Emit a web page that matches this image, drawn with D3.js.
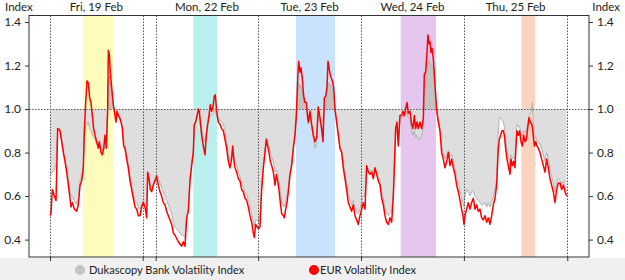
<!DOCTYPE html>
<html><head><meta charset="utf-8">
<script src="https://cdn.jsdelivr.net/npm/d3@7"></script>
<style>body{margin:0;background:#fff} svg{display:block} text{font-family:Lato,"Noto Sans",sans-serif;fill:#222}</style>
</head><body><svg id="c" width="625" height="280"></svg>
<script>
// hours since Fri 19 Feb 00:00 (weekend removed)
const hours=[0.00,0.23,0.54,1.01,1.40,1.79,2.33,2.72,3.11,3.50,3.89,4.28,4.66,4.90,5.21,5.68,6.22,6.61,7.00,7.39,7.77,8.01,8.32,8.63,8.94,9.25,9.56,9.87,10.18,10.50,10.88,11.27,11.51,11.90,12.21,12.52,12.83,13.14,13.45,13.61,13.84,14.07,14.38,14.77,15.16,15.39,15.63,15.94,16.25,16.56,16.87,17.18,17.49,17.88,18.27,18.66,19.05,19.43,19.83,20.21,20.60,20.99,21.38,21.77,22.16,22.55,22.78,23.09,23.40,23.71,24.10,24.49,24.88,25.27,25.66,26.04,26.43,26.82,27.21,27.60,27.99,28.38,28.77,29.15,29.93,30.32,30.71,31.10,31.49,31.88,32.26,32.65,33.04,33.43,33.66,33.97,34.29,34.60,34.83,35.06,35.37,35.76,36.15,36.46,36.77,37.08,37.40,37.71,38.02,38.33,38.56,38.87,39.26,39.65,40.04,40.43,40.82,41.20,41.59,41.98,42.37,42.60,42.92,43.15,43.54,43.93,44.32,44.70,45.09,45.48,45.87,46.26,46.65,47.04,47.43,47.66,47.97,48.28,48.59,48.98,49.37,49.76,50.15,50.46,50.77,51.08,51.39,51.70,52.09,52.48,52.79,53.10,53.41,53.72,54.03,54.42,54.65,54.97,55.28,55.59,55.98,56.37,56.75,57.14,57.45,57.76,58.00,58.31,58.54,58.85,59.16,59.48,59.79,60.10,60.25,60.64,61.03,61.42,61.81,62.20,62.58,62.97,63.36,63.67,63.98,64.30,64.61,64.84,65.15,65.46,65.85,66.16,66.47,66.86,67.25,67.64,68.03,68.42,68.80,69.19,69.58,69.97,70.36,70.75,71.14,71.53,71.91,72.30,72.69,73.08,73.47,73.86,74.25,74.64,75.02,75.41,75.80,76.19,76.58,76.97,77.36,77.75,78.13,78.52,78.91,79.30,79.69,80.08,80.31,80.62,80.93,81.24,81.63,82.02,82.33,82.64,82.95,83.27,83.58,83.97,84.35,84.66,84.98,85.29,85.60,85.91,86.30,86.69,87.08,87.31,87.62,87.93,88.16,88.40,88.63,88.86,89.10,89.41,89.80,90.18,90.57,90.96,91.35,91.74,92.13,92.52,92.91,93.30,93.68,94.07,94.46,94.85,95.24,95.63,96.02,96.33,96.56,96.79,97.18,97.57,97.96,98.35,98.74,99.13,99.52,99.90,100.29,100.68,101.07,101.46,101.85,102.24,102.62,103.01,103.40,103.79,104.18,104.57,104.80,105.11,105.42,105.73,105.97,106.28,106.59,106.90,107.29,107.52,107.83,108.14,108.45,108.69,108.92,109.23,109.54,109.86,110.17,110.48,110.79,111.10,111.41,111.72,112.03,112.34,112.50,112.66,112.97,113.28,113.59,113.90,114.29,114.68,115.07,115.46,115.84,116.23,116.62,117.01,117.40,117.79,118.18,118.57,118.96,119.34,119.73,120.12,120.51];
const eurVol=[.51,.52,.63,.60,.58,.91,.90,.85,.80,.76,.71,.65,.59,.55,.57,.54,.53,.56,.65,.67,.73,.90,1.03,1.13,1.12,1.05,1.03,.97,.91,.88,.85,.82,.85,.80,.79,.82,.88,.82,1.00,1.27,1.25,1.17,1.10,1.02,.97,.94,.99,.97,.96,.94,.91,.83,.82,.77,.73,.67,.63,.59,.55,.54,.51,.51,.55,.57,.55,.50,.71,.68,.63,.62,.65,.67,.69,.65,.62,.60,.57,.56,.53,.51,.49,.47,.43,.42,.39,.38,.37,.39,.37,.50,.53,.67,.74,.80,.93,.94,.97,1.00,.99,.94,.88,.83,.79,.88,.93,.97,1.02,.99,1.01,1.06,1.065,.99,.94,.93,.91,.90,.86,.82,.76,.73,.77,.83,.76,.73,.71,.68,.67,.63,.62,.59,.58,.55,.51,.48,.43,.41,.47,.46,.45,.46,.63,.73,.80,.86,.83,.80,.76,.74,.71,.65,.70,.67,.63,.57,.52,.51,.50,.54,.57,.62,.70,.74,.82,.88,.97,1.13,1.22,1.17,1.19,1.14,1.06,1.03,1.03,.96,.94,.99,.93,.88,.85,.87,1.01,.96,.91,.85,1.05,1.06,1.10,1.22,1.18,1.15,1.13,1.10,1.00,.94,.88,.82,.80,.73,.68,.63,.57,.55,.53,.56,.51,.49,.47,.51,.54,.57,.54,.74,.71,.70,.71,.68,.73,.70,.67,.65,.59,.56,.51,.48,.47,.50,.48,.60,.73,.91,.94,.83,.97,.97,.99,.97,1.00,1.03,.98,.99,.93,.91,.97,.91,.94,.91,.94,.91,.96,1.16,1.17,1.26,1.34,1.30,1.31,1.26,1.28,1.23,1.11,1.00,.94,.90,.80,.77,.73,.76,.80,.74,.77,.73,.70,.65,.62,.58,.54,.51,.47,.51,.54,.57,.54,.57,.59,.54,.56,.53,.54,.50,.49,.51,.48,.50,.47,.51,.56,.59,.65,.82,.86,.88,.90,.90,.88,.82,.77,.74,.70,.77,.74,.76,.73,.83,.90,.88,.90,.85,.83,.88,.85,.86,.91,.96,.94,.93,.92,.89,.83,.85,.83,.82,.80,.77,.74,.71,.77,.73,.68,.65,.62,.57,.63,.66,.66,.63,.65,.62,.60];
const dukVol=[.70,.70,.71,.72,.75,.91,.91,.86,.81,.77,.73,.68,.62,.60,.60,.58,.56,.59,.67,.69,.74,.88,.92,.93,.94,.91,.90,.88,.87,.86,.84,.83,.84,.82,.81,.81,.83,.82,1.00,1.12,1.15,1.12,1.08,1.02,.98,.96,.98,.97,.96,.95,.92,.85,.84,.79,.75,.69,.65,.61,.58,.57,.55,.54,.56,.58,.57,.56,.69,.68,.65,.64,.66,.68,.70,.68,.66,.64,.62,.60,.58,.56,.54,.52,.48,.46,.44,.43,.42,.42,.41,.50,.54,.68,.76,.81,.92,.94,.96,.98,.98,.95,.91,.87,.85,.88,.92,.95,.97,.97,.98,.99,.99,.97,.95,.95,.94,.93,.90,.85,.79,.76,.79,.82,.78,.75,.74,.71,.69,.66,.64,.62,.61,.58,.55,.52,.48,.46,.49,.49,.48,.50,.64,.74,.82,.87,.85,.83,.80,.78,.76,.71,.72,.70,.67,.62,.57,.56,.55,.57,.60,.64,.71,.75,.82,.87,.95,1.05,1.12,1.10,1.11,1.08,1.03,1.01,1.00,.97,.93,.96,.92,.86,.82,.84,.97,.94,.90,.86,1.00,1.03,1.06,1.12,1.12,1.11,1.10,1.07,1.00,.95,.88,.82,.81,.75,.70,.66,.61,.58,.56,.58,.55,.53,.52,.54,.57,.60,.60,.72,.72,.71,.72,.70,.73,.71,.69,.67,.62,.59,.54,.52,.51,.52,.53,.62,.72,.88,.90,.84,.94,.96,.97,.96,.98,.99,.96,.95,.90,.88,.90,.87,.88,.86,.86,.88,.92,1.08,1.12,1.18,1.22,1.22,1.22,1.20,1.20,1.18,1.08,.99,.95,.91,.83,.80,.77,.79,.81,.78,.79,.76,.73,.69,.66,.62,.59,.57,.55,.60,.63,.62,.60,.62,.62,.60,.59,.58,.57,.56,.56,.57,.55,.57,.55,.57,.60,.63,.68,.90,.96,.96,.95,.94,.92,.86,.81,.78,.74,.79,.77,.78,.77,.86,.93,.92,.92,.88,.88,.90,.89,.90,.93,.97,.98,.99,1.03,.97,.88,.87,.85,.85,.84,.82,.79,.76,.80,.77,.72,.69,.66,.62,.66,.68,.67,.65,.67,.64,.62];
const dayStart=[0,24.65,48.56,72.54,96.54];
const dayEnd=[21.62,48.56,72.54,96.54,120.65];
const dayLabels=["Fri, 19 Feb","Mon, 22 Feb","Tue, 23 Feb","Wed, 24 Feb","Thu, 25 Feb"];
const bandStart=[7.70,33.42,57.38,81.80,109.93];
const bandEnd=[14.86,38.95,66.47,90.03,113.19];
const yTicks=[0.4,0.6,0.8,1.0,1.2,1.4];
const seriesNames=["Dukascopy Bank Volatility Index","EUR Volatility Index"];

const bandColors=["#fefcbd","#b9efed","#c8e3fb","#e5c6ee","#fcd3c1"];
const svg=d3.select("#c");
const L=29,R=589,T=15.5,B=257;
const x=d3.scaleLinear().domain([-4.9,125.72]).range([L,R]);
const y=d3.scaleLinear().domain([0.32,1.43]).range([B,T]);
const boundaries=Array.from(new Set(dayStart.concat(dayEnd))).sort((a,b)=>a-b);

svg.append("rect").attr("x",0).attr("y",258).attr("width",625).attr("height",22).attr("fill","#f0f0f0");

const defs=svg.append("defs");
defs.append("clipPath").attr("id","above").append("rect").attr("x",L).attr("y",T).attr("width",R-L).attr("height",y(1)-T);
defs.append("clipPath").attr("id","below").append("rect").attr("x",L).attr("y",y(1)).attr("width",R-L).attr("height",B-y(1));

svg.append("g").selectAll("rect").data(bandStart).join("rect")
  .attr("x",d=>x(d)).attr("y",T).attr("width",(d,i)=>x(bandEnd[i])-x(d)).attr("height",B-T)
  .attr("fill",(d,i)=>bandColors[i]);

const pts=hours.map((h,i)=>({h,e:eurVol[i],d:dukVol[i]}));
const area=d3.area().x(p=>x(p.h)).y0(y(1)).y1(p=>y(p.d));
svg.append("path").datum(pts).attr("d",area).attr("fill","#c3c3c3").attr("clip-path","url(#above)");
svg.append("path").datum(pts).attr("d",area).attr("fill","#dedede").attr("clip-path","url(#below)");
svg.append("path").datum(pts).attr("d",d3.line().x(p=>x(p.h)).y(p=>y(p.d))).attr("fill","none").attr("stroke","#b2b2b2").attr("stroke-width",1);

svg.append("g").selectAll("line").data(boundaries).join("line")
  .attr("x1",d=>Math.round(x(d))+0.5).attr("x2",d=>Math.round(x(d))+0.5).attr("y1",T).attr("y2",B)
  .attr("stroke","#555").attr("stroke-width",1).attr("stroke-dasharray","1.5,1.5");
svg.append("line").attr("x1",L).attr("x2",R).attr("y1",Math.round(y(1))+0.5).attr("y2",Math.round(y(1))+0.5)
  .attr("stroke","#555").attr("stroke-width",1).attr("stroke-dasharray","1.5,1.5");

svg.append("path").datum(pts).attr("d",d3.line().x(p=>x(p.h)).y(p=>y(p.e))).attr("fill","none").attr("stroke","#ff0000").attr("stroke-width",1.5).attr("stroke-linejoin","round");

// frame
svg.append("rect").attr("x",L).attr("y",T).attr("width",R-L).attr("height",B-T).attr("fill","none").attr("stroke","#333").attr("stroke-width",1);

const fmt=d3.format(".1f");
const ya=svg.append("g").attr("transform",`translate(${L},0)`).call(d3.axisLeft(y).tickValues(yTicks).tickFormat(fmt).tickSize(4).tickPadding(4));
const yb=svg.append("g").attr("transform",`translate(${R},0)`).call(d3.axisRight(y).tickValues(yTicks).tickFormat(fmt).tickSize(4).tickPadding(4));
const xa=svg.append("g").attr("transform",`translate(0,${B})`).call(d3.axisBottom(x).tickValues(boundaries).tickFormat("").tickSize(4));
[ya,yb,xa].forEach(g=>{g.select(".domain").remove();g.selectAll("line").attr("stroke","#333");g.selectAll("text").attr("font-size",12).attr("fill","#222").style("font-family","Lato, sans-serif");});

svg.append("text").attr("x",5).attr("y",11).attr("font-size",11.5).text("Index");
svg.append("text").attr("x",620).attr("y",11).attr("font-size",11.5).attr("text-anchor","end").text("Index");
svg.append("g").selectAll("text").data(dayLabels).join("text")
  .attr("x",(d,i)=>x((dayStart[i]+dayEnd[i])/2)).attr("y",11).attr("text-anchor","middle").attr("font-size",11.5).text(d=>d);

// legend
const leg=[{n:seriesNames[0],c:"#c4c4c4",cx:80,tx:89},{n:seriesNames[1],c:"#ff0000",cx:314,tx:320}];
leg.forEach(l=>{
  svg.append("circle").attr("cx",l.cx).attr("cy",270).attr("r",5).attr("fill",l.c);
  svg.append("text").attr("x",l.tx).attr("y",274).attr("font-size",11.1).text(l.n);
});
</script></body></html>
